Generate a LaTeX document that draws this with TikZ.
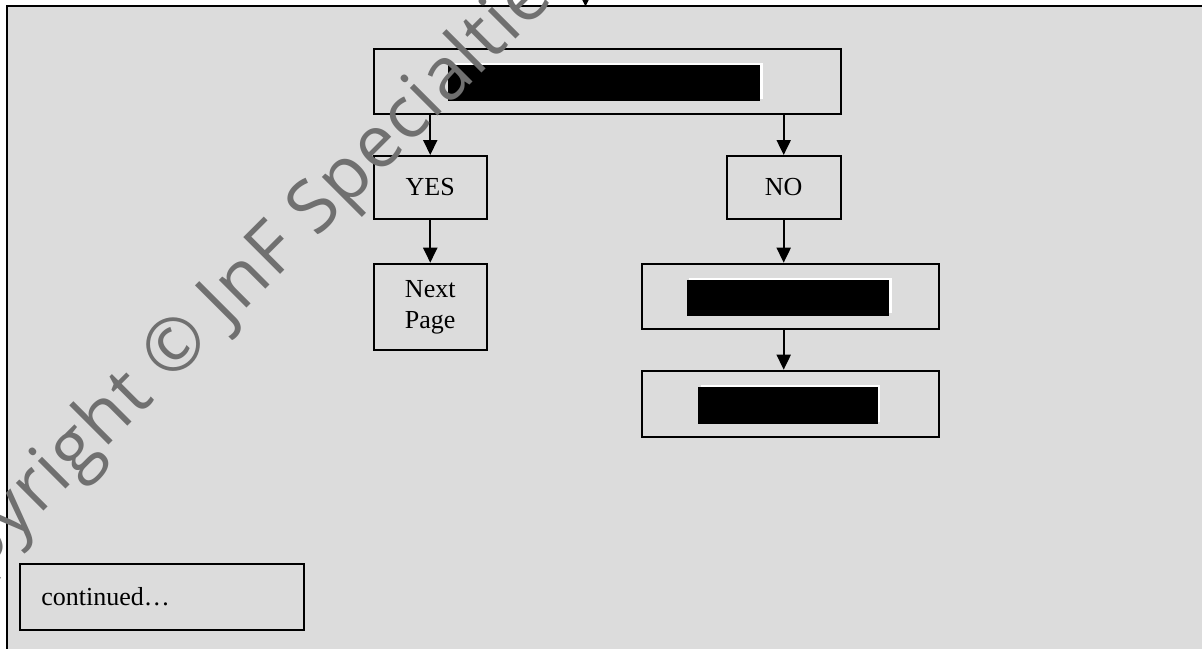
\documentclass[tikz,border=0pt]{standalone}
\usepackage{fontspec}
\setmainfont{Liberation Serif}
\newfontfamily\wmfont[LetterSpace=2]{Open Sans}
\usetikzlibrary{arrows.meta}
\definecolor{bggray}{RGB}{220,220,220}
\definecolor{wmgray}{RGB}{112,112,112}
\tikzset{
  box/.style={draw=black, line width=2pt, inner sep=0pt, font=\fontsize{26}{31}\selectfont},
  arr/.style={line width=2pt, -{Triangle[length=15pt,width=14pt]}},
  redact/.style={fill=black},
  redactedge/.style={fill=white},
}
\begin{document}
\begin{tikzpicture}[x=1pt,y=-1pt]
\useasboundingbox (0,0) rectangle (1202,648);
\clip (0,0) rectangle (1202,648);
\fill[white] (0,0) rectangle (1202,648);
\fill[bggray] (6.9,6) rectangle (1210,660);
\draw[line width=2pt] (6.9,660) -- (6.9,6) -- (1210,6);

% boxes
\node[box, minimum width=467.2pt, minimum height=65pt] (top) at (607.1,81.2) {};
\node[box, minimum width=113.5pt, minimum height=62.7pt] (yes) at (430.25,187.35) {YES};
\node[box, minimum width=113.5pt, minimum height=86.3pt, align=center] (next) at (430.25,306.85) {Next\\Page};
\node[box, minimum width=114pt, minimum height=62.7pt] (no) at (783.7,187.35) {NO};
\node[box, minimum width=297.8pt, minimum height=65.3pt] (b3) at (790.4,296.35) {};
\node[box, minimum width=297.8pt, minimum height=66pt] (b4) at (790.4,403.7) {};
\node[box, minimum width=283.6pt, minimum height=65.7pt, text width=241.6pt, inner xsep=21pt, align=left] (cont) at (162.1,597.15) {continued\ldots};

% redactions
\fill[redactedge] (451,63) rectangle (763,98.5);
\fill[redact] (448,65) rectangle (760,100.7);
\fill[redactedge] (689.4,277.7) rectangle (891.7,313);
\fill[redact] (687,280) rectangle (889,315.7);
\fill[redactedge] (700.6,385) rectangle (879.8,421.7);
\fill[redact] (697.9,387) rectangle (878,424);

% connectors
\coordinate (inA) at (585.5,-20);
\coordinate (inB) at (585.5,6.5);
\draw[arr] (inA) -- (inB);
\draw[arr] (top.south -| yes.north) -- (yes.north);
\draw[arr] (top.south -| no.north) -- (no.north);
\draw[arr] (yes.south) -- (next.north);
\draw[arr] (no.south) -- (no.south |- b3.north);
\draw[arr] (b3.south -| no.south) -- (b4.north -| no.south);

% watermark
\node[text=wmgray, font=\wmfont\fontsize{73}{78}\selectfont, rotate=45, inner sep=0pt] (wm) at (234,294) {Copyright © JnF Specialties};
\end{tikzpicture}
\end{document}
